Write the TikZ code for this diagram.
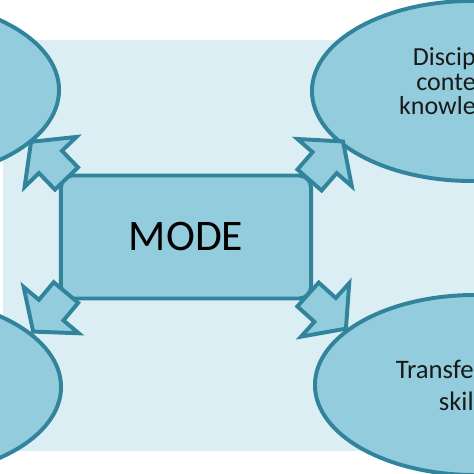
\documentclass[tikz,border=0pt]{standalone}
\usepackage{fontspec}
\setmainfont{Carlito}
\usetikzlibrary{shapes.geometric,calc}
\definecolor{aquaback}{HTML}{DAEEF3}
\definecolor{aquafill}{HTML}{93CDDD}
\definecolor{aqualine}{HTML}{31849B}

\begin{document}
\begin{tikzpicture}[x=0.025cm,y=0.025cm,
  bubble/.style={ellipse,draw=aqualine,fill=aquafill,line width=2.8pt,minimum width=8cm,minimum height=4.5cm,inner sep=0pt,outer sep=0pt},
  modebox/.style={draw=aqualine,fill=aquafill,line width=2.8pt,rounded corners=0.3cm,minimum width=6.25cm,minimum height=3.075cm,outer sep=0pt,font=\fontsize{31}{37}\selectfont},
  txt/.style={anchor=base east,inner sep=0pt,align=right,text=black!90},
  blockarrow/.pic={\draw[aqualine,fill=aquafill,line width=2.8pt,line join=miter]
    (0,-16) -- (23,-16) -- (23,-36) -- (51,0) -- (23,36) -- (23,16) -- (0,16) -- cycle;}]
\clip (0,0) rectangle (474,474);
\fill[aquaback] (3,23) rectangle (474,434);
% four bubbles, cut by the frame
\node[bubble] (tl) at (-101,384) {};
\node[bubble] (dck) at (472,383) {};
\node[bubble] (bl) at (-99,87) {};
\node[bubble] (ts) at (475,89) {};
\node[modebox] (mode) at (186,237) {MODE};
% text left in the frame
\node[txt,font=\fontsize{18.5}{17.5}\selectfont] (dcktext) at (476,359) {Discip\\conte\\knowle};
\node[txt,font=\fontsize{19}{22.8}\selectfont] (tstext) at (474,63) {Transfe\\skil};
% block arrows out of the corners
\pic[rotate=134] at ($(mode.north west)+(5.5,-3)$) {blockarrow};
\pic[rotate=49] at ($(mode.north east)+(-1.5,-4.5)$) {blockarrow};
\pic[rotate=230] at ($(mode.south west)+(5,6)$) {blockarrow};
\pic[rotate=-42] at ($(mode.south east)+(-3,4)$) {blockarrow};
\end{tikzpicture}
\end{document}
